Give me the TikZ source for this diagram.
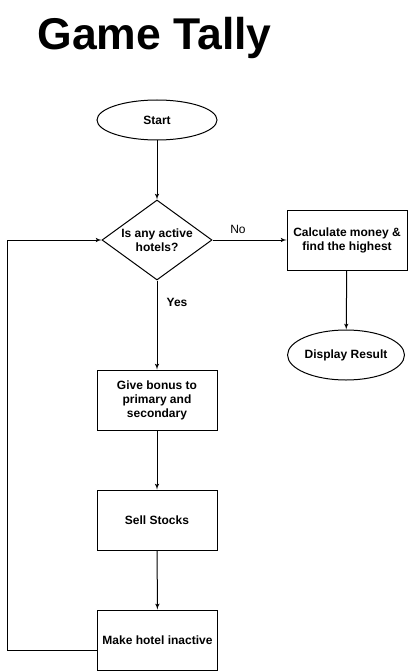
\documentclass[tikz,border=0pt]{standalone}
\usepackage{fontspec}
\setmainfont{Liberation Sans}
\usetikzlibrary{arrows,shapes.geometric}

\begin{document}
\begin{tikzpicture}[x=1pt,y=-1pt,line width=1pt]
            \tikzset{box/.style = {shape=rectangle,draw,minimum width=120pt,minimum height=60pt,inner sep=1pt,align=center,font=\bfseries\fontsize{12}{14}\selectfont}}
            \tikzset{oval/.style = {shape=ellipse,draw,inner sep=0pt,font=\bfseries\fontsize{12}{14}\selectfont}}
            \tikzset{choice/.style = {shape=diamond,draw,aspect=1.375,inner sep=0pt,minimum width=110pt,minimum height=80pt,align=center,font=\bfseries\fontsize{12}{14}\selectfont}}
            \tikzset{edge/.style = {->,> = latex'}}
            \useasboundingbox (0,0) rectangle (409,671);
            \node[anchor=base west,inner sep=0pt,font=\bfseries\fontsize{44.5}{50}\selectfont] (title) at (37,50) {Game Tally};
            \node[oval,minimum width=120pt,minimum height=40pt] (start) at (157,120) {Start};
            \node[choice] (query) at (157,240) {Is any active\\hotels?};
            \node[box] (calc) at (347,240) {Calculate money \&\\find the highest};
            \node[oval,minimum width=108pt,minimum height=50pt] (result) at (346,355) {Display Result};
            \node[box] (bonus) at (157,400) {Give bonus to\\primary and\\secondary};
            \node[box] (sell) at (157,520) {Sell Stocks};
            \node[box] (inactive) at (157.5,640) {Make hotel inactive};
            \node[font=\fontsize{12}{14}\selectfont] (no) at (238,229) {No};
            \node[font=\bfseries\fontsize{12}{14}\selectfont] (yes) at (177,302) {Yes};
            \coordinate (corner) at (7,650);

            \draw[edge] (start) to (query);
            \draw[edge] (query) to (calc);
            \draw[edge] (calc) to (result);
            \draw[edge] (query) to (bonus);
            \draw[edge] (bonus) to (sell);
            \draw[edge] (sell) to (inactive);
            \draw[edge] ([yshift=-10pt]inactive.west) -- (corner) |- (query.west);
        \end{tikzpicture}
\end{document}
